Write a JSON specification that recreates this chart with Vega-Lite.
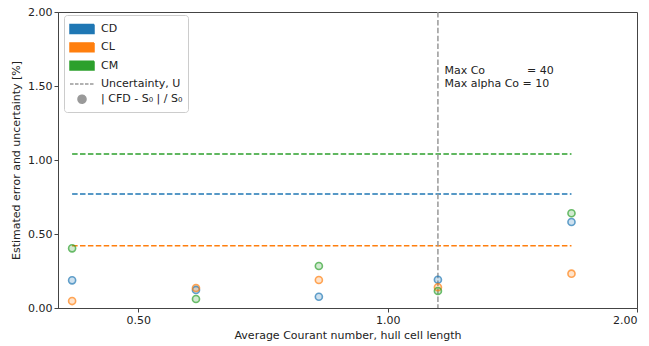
{
  "$schema": "https://vega.github.io/schema/vega-lite/v6.json",
  "width": 579,
  "height": 296,
  "autosize": {"type": "none"},
  "padding": {"left": 58, "top": 12, "right": 12, "bottom": 38},
  "background": "white",
  "config": {
    "font": "DejaVu Sans",
    "view": {"stroke": "#444", "strokeWidth": 1},
    "axis": {
      "grid": false,
      "domainColor": "#444",
      "tickColor": "#444",
      "tickSize": 4,
      "labelFont": "DejaVu Sans",
      "labelFontSize": 11,
      "labelColor": "#222",
      "titleFont": "DejaVu Sans",
      "titleFontSize": 11,
      "titleFontWeight": "normal",
      "titleColor": "#222"
    },
    "legend": {
      "title": null,
      "orient": "none",
      "legendX": 6,
      "legendY": 3,
      "fillColor": "white",
      "strokeColor": "#cccccc",
      "cornerRadius": 3,
      "padding": 5,
      "rowPadding": 1.3,
      "labelFont": "DejaVu Sans",
      "labelFontSize": 11,
      "labelColor": "#222",
      "labelOffset": 10,
      "symbolOffset": 4,
      "symbolSize": 256,
      "symbolOpacity": 1,
      "symbolStrokeWidth": 1.5
    }
  },
  "datasets": {
    "pts": [
      {"co": 0.416, "series": "CD", "err": 0.187},
      {"co": 0.416, "series": "CL", "err": 0.047},
      {"co": 0.416, "series": "CM", "err": 0.403},
      {"co": 0.587, "series": "CD", "err": 0.122},
      {"co": 0.587, "series": "CL", "err": 0.135},
      {"co": 0.587, "series": "CM", "err": 0.061},
      {"co": 0.826, "series": "CD", "err": 0.076},
      {"co": 0.826, "series": "CL", "err": 0.189},
      {"co": 0.826, "series": "CM", "err": 0.284},
      {"co": 1.15, "series": "CD", "err": 0.191},
      {"co": 1.15, "series": "CL", "err": 0.14},
      {"co": 1.15, "series": "CM", "err": 0.115},
      {"co": 1.667, "series": "CD", "err": 0.581},
      {"co": 1.667, "series": "CL", "err": 0.232},
      {"co": 1.667, "series": "CM", "err": 0.64}
    ],
    "unc": [
      {"series": "CD", "u": 0.77, "x1": 0.416, "x2": 1.667},
      {"series": "CL", "u": 0.42, "x1": 0.416, "x2": 1.667},
      {"series": "CM", "u": 1.04, "x1": 0.416, "x2": 1.667}
    ],
    "vline": [{"co": 1.15}],
    "note": [{"co": 1.171, "y": 1.645, "txt": ["Max Co\u00a0\u00a0\u00a0\u00a0\u00a0\u00a0\u00a0\u00a0\u00a0\u00a0\u00a0\u00a0= 40", "Max alpha Co = 10"]}]
  },
  "layer": [
    {
      "data": {"name": "pts"},
      "mark": {"type": "point", "filled": true, "opacity": 0},
      "encoding": {
        "x": {"field": "co", "type": "quantitative"},
        "y": {"field": "err", "type": "quantitative"},
        "color": {
          "field": "series", "type": "nominal", "title": null,
          "scale": {"domain": ["CD", "CL", "CM", "Uncertainty, U", "| CFD - S₀ | / S₀"], "range": ["#1f77b4", "#ff7f0e", "#2ca02c", "#999999", "#999999"]}
        },
        "stroke": {
          "field": "series", "type": "nominal", "title": null,
          "scale": {"domain": ["CD", "CL", "CM", "Uncertainty, U", "| CFD - S₀ | / S₀"], "range": ["#1f77b4", "#ff7f0e", "#2ca02c", "#999999", "#999999"]}
        },
        "shape": {
          "field": "series", "type": "nominal", "title": null,
          "scale": {"domain": ["CD", "CL", "CM", "Uncertainty, U", "| CFD - S₀ | / S₀"], "range": ["M-1.5,-0.55H1.5V0.55H-1.5Z", "M-1.5,-0.55H1.5V0.55H-1.5Z", "M-1.5,-0.55H1.5V0.55H-1.5Z", "M-1.5,0H1.5", "M0.5,0A0.5,0.5 0 1,1 -0.5,0A0.5,0.5 0 1,1 0.5,0Z"]}
        },
        "strokeDash": {
          "field": "series", "type": "nominal", "title": null,
          "scale": {"domain": ["CD", "CL", "CM", "Uncertainty, U", "| CFD - S₀ | / S₀"], "range": [[1, 0], [1, 0], [1, 0], [3.5, 1.5], [1, 0]]}
        }
      }
    },
    {
      "data": {"name": "unc"},
      "mark": {"type": "rule", "strokeDash": [5.5, 2.4], "strokeWidth": 1.5},
      "encoding": {
        "x": {"field": "x1", "type": "quantitative"},
        "x2": {"field": "x2"},
        "y": {"field": "u", "type": "quantitative"},
        "color": {"field": "series", "type": "nominal", "title": null}
      }
    },
    {
      "data": {"name": "vline"},
      "mark": {"type": "rule", "strokeDash": [5.5, 2.4], "strokeWidth": 1.5, "color": "#999"},
      "encoding": {
        "x": {"field": "co", "type": "quantitative"}
      }
    },
    {
      "data": {"name": "pts"},
      "mark": {"type": "point", "shape": "circle", "filled": true, "opacity": 0.22, "size": 40},
      "encoding": {
        "x": {"field": "co", "type": "quantitative"},
        "y": {"field": "err", "type": "quantitative"},
        "color": {"field": "series", "type": "nominal", "title": null}
      }
    },
    {
      "data": {"name": "pts"},
      "mark": {"type": "point", "shape": "circle", "filled": false, "strokeWidth": 1.6, "size": 50},
      "encoding": {
        "x": {
          "field": "co",
          "type": "quantitative",
          "scale": {"type": "log", "domain": [0.4, 2.0], "nice": false},
          "axis": {"values": [0.5, 1, 2], "format": ".2f", "title": "Average Courant number, hull cell length", "titlePadding": 4}
        },
        "y": {
          "field": "err",
          "type": "quantitative",
          "scale": {"domain": [0, 2], "nice": false},
          "axis": {"values": [0, 0.25, 0.5, 0.75, 1, 1.25, 1.5, 1.75, 2], "format": ".2f", "title": "Estimated error and uncertainty [%]", "titlePadding": 6}
        },
        "color": {"field": "series", "type": "nominal", "title": null}
      }
    },
    {
      "data": {"name": "note"},
      "mark": {"type": "text", "align": "left", "baseline": "top", "fontSize": 11, "font": "DejaVu Sans", "color": "#222", "lineHeight": 13},
      "encoding": {
        "x": {"field": "co", "type": "quantitative"},
        "y": {"field": "y", "type": "quantitative"},
        "text": {"field": "txt"}
      }
    }
  ]
}
